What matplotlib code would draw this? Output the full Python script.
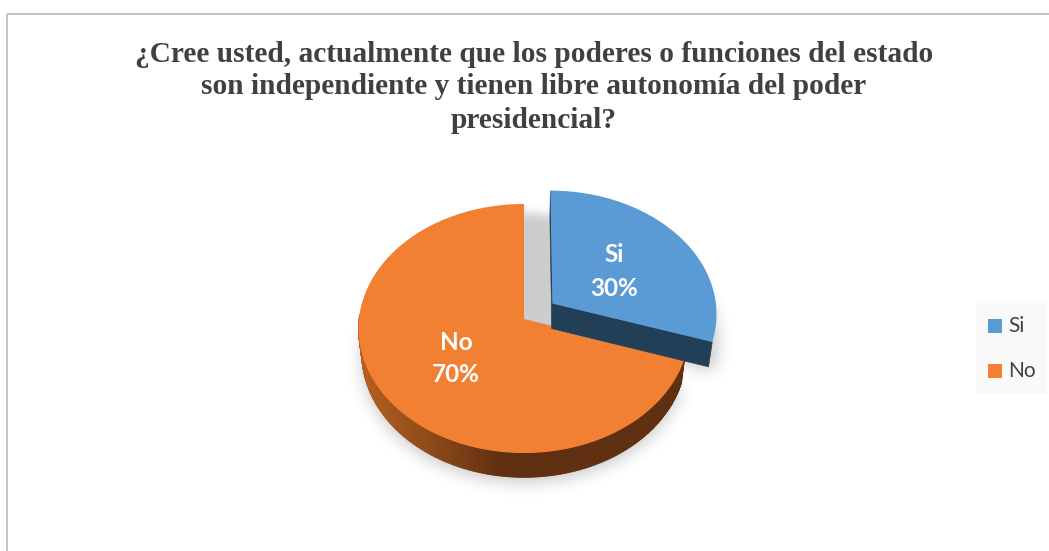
import numpy as np
import matplotlib
matplotlib.use("Agg")
import matplotlib.pyplot as plt
from matplotlib.path import Path
from matplotlib.patches import Polygon, Rectangle

categories = ["Si", "No"]
shares = [30, 70]
colors_top = ["#5B9BD5", "#F28033"]
title_lines = ["¿Cree usted, actualmente que los poderes o funciones del estado",
               "son independiente y tienen libre autonomía del poder",
               "presidencial?"]

W, H = 1049, 551
fig = plt.figure(figsize=(W / 100, H / 100), dpi=100, facecolor="white")
ax = fig.add_axes([0, 0, 1, 1])
ax.set_xlim(0, W)
ax.set_ylim(H, 0)
ax.axis("off")

CX, CY, RX, RY, K = 524.0, 319.0, 165.0, 123.8, 0.0763
DEPTH, SHRINK = 25.0, 0.98
EXPLODE = 0.215


def project(u, v, lower=False):
    w = 1 + K * v
    x, y = u / w, v / w
    if lower:
        return CX + SHRINK * RX * x, CY + DEPTH - 0.995 * RY * y
    return CX + RX * x, CY - RY * y


def wedge(start, end, explode=0.0, n=160):
    t = np.radians(np.linspace(start, end, n))
    mid = np.radians((start + end) / 2)
    ou, ov = explode * np.sin(mid), explode * np.cos(mid)
    u = np.r_[ou, ou + np.sin(t)]
    v = np.r_[ov, ov + np.cos(t)]
    return u, v


def blur(a, sigma):
    r = int(3 * sigma)
    g = np.exp(-0.5 * (np.arange(-r, r + 1) / sigma) ** 2)
    g /= g.sum()
    a = np.apply_along_axis(lambda m: np.convolve(m, g, mode="same"), 0, a)
    return np.apply_along_axis(lambda m: np.convolve(m, g, mode="same"), 1, a)


total = sum(shares)
ang = np.cumsum([0] + shares) / total * 360
si = (ang[0], ang[1])
no = (ang[1], ang[2])

yy, xx = np.mgrid[0:H, 0:W]
pix = np.c_[xx.ravel() + 0.5, yy.ravel() + 0.5]


def mask(u, v, lower=False, dx=0.0, dy=0.0):
    x, y = project(u, v, lower)
    return Path(np.c_[x + dx, y + dy]).contains_points(pix).reshape(H, W).astype(float)


uS, vS = wedge(*si, EXPLODE)
uN, vN = wedge(*no)
uH, vH = wedge(*si)
drop = np.maximum.reduce([mask(uN, vN, True, 0, 5), mask(uS, vS, True, 5, 4)])
shade = 0.27 * blur(drop, 8)
hole = 0.20 * blur(mask(uH, vH, False, -12, 8), 5)
alpha = np.clip(np.maximum(shade * 0.8, hole), 0, 1)
rgba = np.zeros((H, W, 4))
rgba[..., 3] = alpha
ax.imshow(rgba, extent=(0, W, H, 0), zorder=1, interpolation="bilinear", aspect="auto")


def side_wall(start, end, c0, c1, zorder):
    t = np.radians(np.linspace(start, end, 240))
    u, v = np.sin(t), np.cos(t)
    xt, yt = project(u, v)
    xb, yb = project(u, v, True)
    c0, c1 = np.array(matplotlib.colors.to_rgb(c0)), np.array(matplotlib.colors.to_rgb(c1))
    for i in range(len(t) - 1):
        f = np.clip((CX - 25 - xt[i]) / (CX - 359 - 25), 0, 1) ** 0.9
        col = c1 + (c0 - c1) * f
        ax.add_patch(Polygon([(xt[i], yt[i]), (xt[i + 1], yt[i + 1]), (xb[i + 1], yb[i + 1]), (xb[i], yb[i])],
                             closed=True, fc=col, ec=col, lw=0.6, zorder=zorder))


def quad(u0, v0, u1, v1, color, zorder):
    x0, y0 = project(np.array([u0, u1]), np.array([v0, v1]))
    x1, y1 = project(np.array([u1, u0]), np.array([v1, v0]), True)
    ax.add_patch(Polygon(np.c_[np.r_[x0, x1], np.r_[y0, y1]], closed=True, fc=color, ec=color, lw=0.5, zorder=zorder))


# only the front part of the rim can be seen
side_wall(no[0], 272, "#B5601F", "#5F2F10", 2)
x, y = project(uN, vN)
ax.fill(x, y, color=colors_top[1], lw=0, zorder=3)

mid = np.radians(sum(si) / 2)
ou, ov = EXPLODE * np.sin(mid), EXPLODE * np.cos(mid)
quad(ou, ov, ou + np.sin(np.radians(si[1])), ov + np.cos(np.radians(si[1])), "#223F58", 4)
quad(ou, ov, ou + np.sin(np.radians(si[0])), ov + np.cos(np.radians(si[0])), "#223F58", 4)
x, y = project(uS, vS)
ax.fill(x, y, color=colors_top[0], lw=0, zorder=5)

for name, share, lx, ly0, ly1 in zip(categories, shares, (614, 456), (255, 343), (289, 375)):
    ax.text(lx, ly0, name, color="white", fontsize=17.5, fontweight="bold",
            family="Lato", ha="center", va="center", zorder=6)
    ax.text(lx, ly1, f"{share}%", color="white", fontsize=17.5, fontweight="bold",
            family="Lato", ha="center", va="center", zorder=6)

for line, ty in zip(title_lines, (54, 86, 121)):
    ax.text(534, ty, line, color="#404040", fontsize=21.2, fontweight="bold",
            family="Liberation Serif", ha="center", va="center", zorder=6)

ax.plot([6.5, 6.5], [H, 13.5], color="#BFBFBF", lw=1.3, zorder=0, solid_capstyle="butt")
ax.plot([6.5, W], [13.5, 13.5], color="#BFBFBF", lw=1.3, zorder=0, solid_capstyle="butt")

ax.add_patch(Rectangle((976, 303), 71, 91, fc="#F9F9F9", ec="none", zorder=1))
for name, col, ly in zip(categories, colors_top, (326, 371)):
    ax.add_patch(Rectangle((988, ly - 7), 14, 14, fc=col, ec="none", zorder=6))
    ax.text(1008, ly, name, color="#404040", fontsize=15, family="Lato", ha="left", va="center", zorder=6)

fig.savefig("out.png", dpi=100, facecolor="white")
